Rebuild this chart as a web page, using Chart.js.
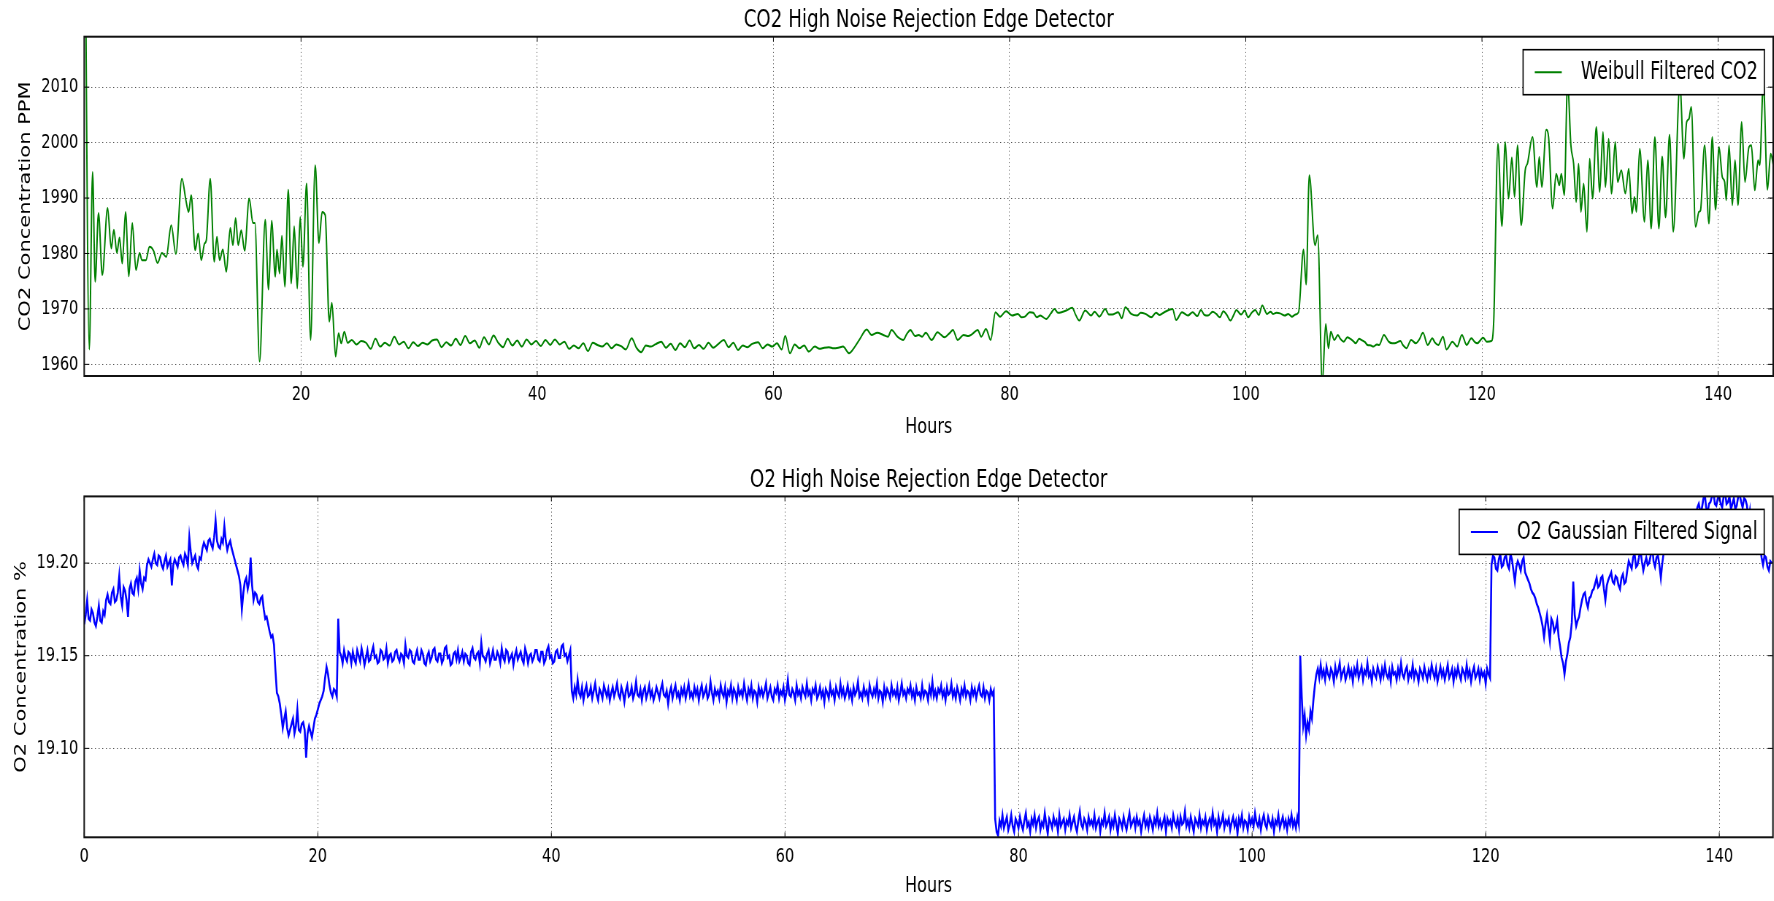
<!DOCTYPE html>
<html>
<head>
<meta charset="utf-8">
<title>CO2 / O2 High Noise Rejection Edge Detector</title>
<script src="https://cdn.jsdelivr.net/npm/chart.js@4.4.1/dist/chart.umd.min.js"></script>
<style>
  html, body { margin: 0; padding: 0; background: #fff; overflow: hidden; }
  .squeeze { position: absolute; left: 0; transform-origin: 0 0; }
</style>
</head>
<body>
<div id="topBox" class="squeeze"><canvas id="co2Chart"></canvas></div>
<div id="bottomBox" class="squeeze"><canvas id="o2Chart"></canvas></div>
<script>

// ---------------- data ----------------

// CO2 readings, [hour, ppm] (peaks and troughs)
const co2Samples = [
  [1.65,2060],[2.07,1962.7],[2.35,1994.7],[2.57,1974.9],[2.85,1987.3],[3.17,1976.1],[3.62,1988.2],[3.93,1980.9],
  [4.15,1984.3],[4.41,1980.1],[4.63,1982.9],[4.86,1978.2],[5.14,1987.5],[5.42,1975.9],[5.71,1985.5],[6.02,1977.0],
  [6.33,1980.1],[6.53,1978.8],[6.86,1978.8],[7.17,1981.2],[7.51,1980.5],[7.85,1978.3],[8.22,1980.1],[8.59,1979.4],
  [9.01,1985.1],[9.40,1979.9],[9.91,1993.5],[10.25,1989.6],[10.48,1987.5],[10.70,1990.5],[11.04,1980.6],[11.29,1983.6],
  [11.55,1978.8],[11.83,1981.8],[11.98,1982.4],[12.31,1993.5],[12.65,1978.5],[12.88,1983.0],[13.10,1978.8],[13.38,1980.7],
  [13.67,1976.7],[14.01,1984.6],[14.23,1981.5],[14.46,1986.4],[14.68,1981.5],[14.94,1984.2],[15.22,1980.5],[15.61,1989.9],
  [15.93,1985.5],[16.09,1985.5],[16.49,1960.5],[16.97,1986.1],[17.25,1973.5],[17.51,1985.9],[17.82,1975.8],[17.96,1980.7],
  [18.18,1976.4],[18.38,1983.2],[18.63,1974.0],[18.92,1991.5],[19.17,1974.6],[19.42,1984.9],[19.68,1973.7],[19.93,1986.6],
  [20.16,1977.6],[20.47,1992.6],[20.81,1964.4],[21.20,1995.9],[21.51,1981.9],[21.79,1987.5],[22.05,1986.9],[22.39,1967.7],
  [22.61,1971.1],[22.93,1961.4],[23.18,1965.6],[23.40,1963.8],[23.66,1965.9],[23.95,1963.9],
  // quiet stretch
  [24.3,1964.4],[24.7,1963.6],[25.1,1964.2],[25.5,1963.9],[25.9,1962.8],[26.3,1964.6],[26.7,1963.2],[27.1,1963.9],
  [27.5,1963.4],[27.9,1965.0],[28.3,1963.6],[28.7,1964.1],[29.1,1962.9],[29.5,1964.0],[29.9,1963.3],[30.3,1963.9],
  [30.7,1963.6],[31.1,1964.3],[31.5,1964.5],[31.9,1963.1],[32.3,1964.0],[32.7,1963.4],[33.1,1964.6],[33.5,1963.5],
  [33.9,1965.1],[34.3,1963.8],[34.7,1964.3],[35.1,1963.0],[35.5,1964.9],[35.9,1963.6],[36.3,1965.2],[36.7,1963.9],
  [37.1,1963.1],[37.5,1964.6],[37.9,1963.4],[38.3,1964.3],[38.7,1963.2],[39.1,1964.5],[39.5,1963.6],[39.9,1964.2],
  [40.3,1963.3],[40.7,1964.4],[41.1,1963.5],[41.5,1964.5],[41.9,1963.6],[42.3,1964.1],[42.7,1962.8],[43.1,1963.4],
  [43.5,1962.9],[43.9,1963.8],[44.3,1962.4],[44.7,1963.9],[45.1,1963.5],[45.5,1963.2],[45.9,1963.8],[46.3,1962.9],
  [46.7,1963.6],[47.1,1963.3],[47.5,1962.7],[48.0,1964.7],[48.4,1963.0],[48.8,1962.2],[49.2,1963.4],[49.6,1963.2],
  [50.0,1963.6],[50.5,1964.1],[50.9,1963.0],[51.3,1963.7],[51.7,1962.6],[52.1,1963.8],[52.5,1963.1],[52.9,1964.3],
  [53.3,1962.9],[53.7,1963.5],[54.1,1962.8],[54.5,1963.9],[54.9,1963.0],[55.3,1963.6],[55.8,1964.4],[56.2,1963.1],
  [56.6,1963.9],[57.0,1962.6],[57.4,1963.4],[57.8,1963.1],[58.2,1963.7],[58.7,1964.0],[59.1,1962.9],[59.5,1963.6],
  [59.9,1963.2],[60.3,1963.8],[60.7,1962.7],[61.0,1965.1],[61.4,1962.0],[61.8,1963.6],[62.2,1962.9],[62.6,1963.4],
  [63.0,1962.3],[63.5,1963.2],[63.9,1962.8],[64.3,1963.0],[64.7,1963.1],[65.1,1962.9],[65.5,1963.0],[65.9,1963.2],
  [66.4,1962.0],[66.9,1963.2],[67.3,1964.5],[67.9,1966.3],[68.3,1965.3],[68.8,1965.7],[69.3,1965.3],[69.7,1965.0],
  [70.0,1966.2],[70.5,1965.0],[71.0,1964.4],[71.3,1965.5],[71.6,1966.2],[72.0,1965.1],[72.3,1965.3],[72.6,1965.0],
  [72.9,1965.7],[73.4,1964.4],[73.9,1965.8],[74.2,1965.3],[74.5,1964.9],[74.9,1965.6],[75.2,1966.2],[75.6,1964.4],
  [76.1,1965.3],[76.5,1965.1],[76.8,1965.4],[77.3,1966.2],[77.6,1965.0],[78.0,1966.4],[78.4,1964.4],[78.8,1969.4],
  [79.2,1968.6],[79.7,1969.6],[80.2,1968.8],[80.7,1969.1],[81.0,1968.5],[81.3,1968.6],[81.7,1969.4],[82.0,1969.3],
  [82.3,1968.5],[82.6,1968.8],[83.1,1968.2],[83.5,1969.2],[83.8,1970.0],[84.1,1969.3],[84.4,1969.4],[84.8,1969.7],
  [85.3,1970.2],[85.6,1968.9],[85.9,1967.9],[86.4,1969.7],[86.9,1968.8],[87.2,1969.5],[87.6,1968.6],[88.1,1970.0],
  [88.4,1969.0],[88.7,1969.0],[89.2,1969.4],[89.5,1968.3],[89.8,1970.3],[90.3,1969.1],[90.8,1968.8],[91.1,1969.3],
  [91.5,1969.1],[92.0,1968.5],[92.4,1969.3],[92.7,1968.9],[93.1,1969.4],[93.8,1970.0],[94.1,1968.0],[94.6,1969.4],
  [95.1,1968.8],[95.5,1969.4],[95.9,1968.7],[96.2,1969.8],[96.5,1968.9],[96.8,1968.8],[97.2,1969.5],[97.5,1969.1],
  [97.8,1968.5],[98.1,1969.6],[98.4,1968.9],[98.7,1967.9],[99.0,1969.0],[99.2,1969.8],[99.6,1969.0],[99.9,1969.7],
  [100.2,1968.5],[100.5,1969.3],[100.8,1969.8],[101.1,1968.9],[101.4,1970.6],[101.8,1969.1],[102.1,1969.5],[102.3,1969.1],
  [102.6,1969.3],[102.9,1969.2],[103.3,1968.8],[103.6,1969.1],[103.9,1968.6],[104.2,1969.0],[104.47,1969.4],
  // spike around 105 h
  [104.89,1980.7],[105.11,1974.4],[105.38,1994.1],[105.86,1981.5],[106.09,1983.3],[106.48,1956.5],[106.77,1967.3],[107.0,1962.9],
  [107.2,1965.9],[107.5,1964.4],[107.8,1965.3],[108.0,1964.6],[108.3,1964.1],[108.6,1964.9],[108.8,1964.7],[109.1,1964.2],
  [109.3,1963.8],[109.6,1964.6],[109.8,1964.4],[110.1,1964.0],[110.3,1963.5],[110.6,1963.4],[110.8,1963.2],[111.1,1963.6],
  [111.3,1963.5],[111.7,1965.3],[112.1,1964.1],[112.4,1963.8],[112.6,1963.8],[113.1,1964.2],[113.3,1963.5],[113.6,1962.9],
  [114.0,1964.4],[114.4,1963.8],[114.7,1964.5],[115.0,1965.7],[115.4,1963.5],[115.8,1964.7],[116.0,1964.0],[116.3,1963.5],
  [116.7,1965.0],[117.0,1962.7],[117.5,1964.1],[117.9,1963.2],[118.3,1965.3],[118.7,1963.5],[119.1,1964.7],[119.4,1964.0],
  [119.6,1963.8],[120.1,1964.8],[120.4,1964.1],[120.8,1964.2],[121.0,1968.0],
  // noisy tail
  [121.35,1999.8],[121.69,1984.9],[121.97,2000.1],[122.25,1989.9],[122.53,1997.3],[122.76,1990.2],[123.01,1999.5],[123.32,1985.1],
  [123.66,1995.0],[123.86,1996.3],[124.28,2001.0],[124.65,1992.0],[124.85,1997.4],[125.07,1992.0],[125.44,2002.3],[125.64,2001.0],
  [125.98,1988.1],[126.29,1994.4],[126.55,1992.3],[126.72,1994.4],[126.97,1990.5],[127.25,2011.0],[127.53,1999.5],[127.76,1996.2],
  [127.98,1989.3],[128.18,1996.2],[128.38,1987.5],[128.61,1992.6],[128.89,1983.9],[129.12,1997.1],[129.37,1989.9],[129.68,2002.8],
  [129.97,1991.1],[130.25,2001.9],[130.45,1992.0],[130.73,2000.7],[130.96,1990.8],[131.29,2000.1],[131.49,1992.9],[131.80,1995.0],
  [132.14,1990.8],[132.43,1995.3],[132.71,1987.2],[132.91,1990.2],[133.08,1987.5],[133.36,1998.9],[133.76,1985.7],[134.04,1996.8],
  [134.33,1984.5],[134.64,2001.0],[134.98,1984.5],[135.26,1997.5],[135.55,1986.5],[135.88,2001.4],[136.20,1983.9],[136.76,2010.5],
  [137.10,1997.1],[137.33,2003.7],[137.53,2004.3],[137.72,2006.4],[138.09,1984.8],[138.37,1987.5],[138.51,1987.8],[138.85,1999.5],
  [139.22,1985.4],[139.50,2001.0],[139.78,1987.9],[140.07,1999.2],[140.35,1993.8],[140.55,1992.9],[140.69,1989.6],[140.92,1999.5],
  [141.20,1988.7],[141.43,1996.8],[141.68,1988.7],[141.99,2003.7],[142.27,1992.9],[142.61,1999.2],[142.81,1999.5],[143.10,1991.4],
  [143.38,1996.8],[143.52,1995.9],[143.83,2011.0],[144.17,1991.5],[144.45,1998.0],[144.74,1995.0]
];

// O2 readings, one every 7.5 min from hour 0
const o2Start = 0;
const o2Step = 0.125;
const o2Percent = [
  // 0 - 21.875 h
  19.167,19.172,19.180,19.170,19.169,19.175,19.173,19.168,19.166,19.171,
  19.177,19.169,19.168,19.174,19.172,19.180,19.183,19.179,19.178,19.184,
  19.186,19.179,19.180,19.184,19.193,19.182,19.177,19.187,19.185,19.180,
  19.171,19.186,19.189,19.184,19.183,19.190,19.192,19.186,19.196,19.189,
  19.186,19.192,19.191,19.199,19.202,19.200,19.198,19.202,19.205,19.200,
  19.199,19.204,19.203,19.199,19.197,19.201,19.204,19.198,19.200,19.202,
  19.188,19.199,19.202,19.200,19.198,19.203,19.204,19.201,19.199,19.205,
  19.203,19.199,19.214,19.206,19.200,19.202,19.204,19.199,19.197,19.203,
  19.202,19.208,19.211,19.209,19.207,19.212,19.213,19.210,19.208,19.214,
  19.223,19.212,19.209,19.208,19.213,19.211,19.220,19.212,19.207,19.210,
  19.212,19.208,19.205,19.202,19.199,19.196,19.193,19.188,19.175,19.184,
  19.190,19.192,19.186,19.190,19.203,19.188,19.180,19.184,19.183,19.179,
  19.178,19.181,19.182,19.175,19.170,19.171,19.167,19.163,19.160,19.161,
  19.156,19.142,19.130,19.128,19.124,19.118,19.111,19.116,19.120,19.111,
  19.107,19.110,19.113,19.116,19.108,19.112,19.121,19.110,19.109,19.113,
  19.114,19.110,19.095,19.108,19.112,19.109,19.106,19.111,19.116,19.118,
  19.121,19.124,19.126,19.128,19.131,19.138,19.144,19.140,19.134,19.130,
  19.128,19.132,19.131,19.128,19.170,19.152,
  // 22 - 41.625 h
  19.150,19.146,19.153,19.149,19.147,19.152,19.151,19.146,19.152,19.148,
  19.146,19.153,19.150,19.147,19.154,19.150,19.145,19.149,19.153,19.147,
  19.148,19.152,19.155,19.149,19.150,19.146,19.147,19.153,19.152,19.148,
  19.149,19.154,19.146,19.150,19.151,19.147,19.148,19.152,19.153,19.149,
  19.147,19.151,19.150,19.146,19.156,19.150,19.149,19.153,19.152,19.147,
  19.146,19.150,19.153,19.148,19.148,19.153,19.151,19.146,19.145,19.150,
  19.152,19.147,19.149,19.153,19.154,19.148,19.147,19.151,19.151,19.146,
  19.148,19.154,19.155,19.149,19.150,19.145,19.146,19.151,19.152,19.148,
  19.153,19.147,19.149,19.152,19.147,19.151,19.150,19.146,19.145,19.152,
  19.154,19.149,19.148,19.151,19.152,19.146,19.157,19.150,19.149,19.147,
  19.151,19.153,19.146,19.149,19.153,19.148,19.148,19.152,19.150,19.146,
  19.154,19.149,19.147,19.153,19.152,19.147,19.149,19.151,19.145,19.150,
  19.153,19.148,19.150,19.152,19.148,19.146,19.154,19.151,19.146,19.150,
  19.151,19.147,19.149,19.153,19.153,19.148,19.147,19.152,19.152,19.146,
  19.148,19.153,19.155,19.149,19.150,19.146,19.147,19.152,19.153,19.149,
  19.149,19.155,19.156,19.150,19.151,19.147,19.150,19.153,
  // 41.75 - 77.875 h
  19.131,19.127,19.133,19.129,19.137,19.130,19.128,19.133,19.126,19.131,
  19.134,19.128,19.129,19.133,19.127,19.131,19.135,19.129,19.126,19.132,
  19.130,19.127,19.134,19.131,19.128,19.132,19.126,19.130,19.133,19.128,
  19.131,19.135,19.129,19.127,19.133,19.130,19.125,19.131,19.134,19.128,
  19.129,19.133,19.127,19.130,19.136,19.129,19.128,19.132,19.126,19.131,
  19.133,19.127,19.130,19.134,19.128,19.131,19.126,19.129,19.133,19.130,
  19.127,19.132,19.135,19.129,19.128,19.131,19.124,19.130,19.133,19.127,
  19.131,19.134,19.128,19.130,19.126,19.132,19.129,19.133,19.127,19.131,
  19.135,19.128,19.130,19.127,19.133,19.129,19.132,19.126,19.131,19.134,
  19.128,19.130,19.133,19.127,19.129,19.136,19.130,19.126,19.132,19.129,
  19.131,19.127,19.134,19.130,19.128,19.133,19.125,19.131,19.129,19.134,
  19.127,19.132,19.130,19.126,19.133,19.129,19.131,19.128,19.135,19.130,
  19.126,19.132,19.129,19.134,19.127,19.131,19.130,19.125,19.133,19.129,
  19.132,19.128,19.131,19.135,19.127,19.130,19.133,19.128,19.126,19.132,
  19.130,19.134,19.127,19.131,19.129,19.133,19.126,19.130,19.137,19.129,
  19.128,19.132,19.130,19.126,19.134,19.129,19.131,19.127,19.133,19.130,
  19.128,19.135,19.129,19.131,19.126,19.132,19.130,19.134,19.127,19.129,
  19.133,19.128,19.131,19.125,19.132,19.130,19.127,19.134,19.129,19.131,
  19.126,19.133,19.130,19.128,19.135,19.129,19.132,19.127,19.130,19.134,
  19.128,19.131,19.126,19.133,19.129,19.131,19.136,19.128,19.130,19.127,
  19.133,19.129,19.131,19.126,19.134,19.130,19.128,19.132,19.129,19.135,
  19.127,19.131,19.130,19.125,19.133,19.128,19.132,19.130,19.127,19.134,
  19.129,19.131,19.128,19.133,19.126,19.130,19.135,19.129,19.131,19.127,
  19.132,19.130,19.134,19.128,19.131,19.126,19.133,19.129,19.130,19.127,
  19.134,19.128,19.131,19.130,19.126,19.133,19.129,19.136,19.128,19.131,
  19.127,19.132,19.130,19.134,19.128,19.131,19.126,19.133,19.129,19.130,
  19.135,19.128,19.131,19.127,19.133,19.130,19.126,19.132,19.129,19.134,
  19.128,19.131,19.130,19.126,19.133,19.129,19.132,19.127,19.131,19.134,
  19.129,19.128,19.133,19.127,19.131,19.130,19.126,19.132,19.129,19.131,
  // 78 - 104 h
  19.062,19.055,19.053,19.061,19.058,19.064,19.057,19.060,19.063,19.056,
  19.059,19.064,19.058,19.055,19.062,19.060,19.057,19.063,19.059,19.056,
  19.061,19.065,19.058,19.060,19.055,19.062,19.059,19.064,19.057,19.061,
  19.063,19.056,19.060,19.058,19.065,19.059,19.054,19.062,19.060,19.057,
  19.063,19.059,19.061,19.055,19.064,19.058,19.060,19.062,19.056,19.061,
  19.059,19.064,19.057,19.060,19.063,19.058,19.055,19.061,19.066,19.059,
  19.057,19.062,19.060,19.056,19.063,19.059,19.061,19.058,19.064,19.057,
  19.060,19.062,19.055,19.061,19.059,19.065,19.058,19.060,19.063,19.056,
  19.061,19.058,19.064,19.059,19.054,19.062,19.060,19.057,19.063,19.059,
  19.056,19.061,19.065,19.058,19.060,19.062,19.057,19.063,19.059,19.061,
  19.055,19.060,19.064,19.058,19.061,19.057,19.063,19.060,19.056,19.062,
  19.059,19.065,19.058,19.061,19.057,19.060,19.063,19.055,19.062,19.059,
  19.061,19.057,19.064,19.060,19.058,19.062,19.056,19.063,19.059,19.060,
  19.066,19.058,19.061,19.057,19.063,19.059,19.055,19.062,19.060,19.058,
  19.064,19.057,19.061,19.059,19.063,19.056,19.060,19.062,19.058,19.065,
  19.059,19.061,19.055,19.063,19.058,19.060,19.064,19.057,19.061,19.059,
  19.062,19.056,19.060,19.063,19.058,19.061,19.054,19.062,19.059,19.064,
  19.057,19.061,19.060,19.056,19.063,19.059,19.062,19.058,19.065,19.060,
  19.058,19.062,19.056,19.061,19.064,19.059,19.057,19.063,19.060,19.058,
  19.062,19.055,19.061,19.059,19.064,19.057,19.060,19.063,19.058,19.061,
  19.056,19.062,19.059,19.064,19.058,19.061,19.057,19.063,19.059,
  // 104.125 - 105.25 h
  19.150,19.128,19.112,19.118,19.107,19.114,19.110,19.120,19.116,19.126,
  // 105.375 - 120.375 h
  19.134,19.140,19.143,19.138,19.145,19.139,19.142,19.137,19.144,19.140,
  19.138,19.143,19.141,19.136,19.144,19.139,19.142,19.146,19.138,19.141,
  19.143,19.137,19.140,19.144,19.139,19.142,19.136,19.143,19.140,19.145,
  19.138,19.141,19.144,19.137,19.142,19.140,19.146,19.139,19.141,19.136,
  19.143,19.140,19.138,19.144,19.141,19.137,19.143,19.139,19.145,19.140,
  19.138,19.142,19.136,19.144,19.140,19.141,19.137,19.143,19.139,19.146,
  19.140,19.138,19.142,19.144,19.137,19.141,19.139,19.145,19.138,19.142,
  19.140,19.136,19.143,19.141,19.138,19.144,19.140,19.137,19.142,19.139,
  19.145,19.141,19.138,19.143,19.136,19.140,19.144,19.139,19.142,19.137,
  19.141,19.145,19.138,19.140,19.143,19.136,19.142,19.139,19.144,19.140,
  19.137,19.143,19.141,19.138,19.145,19.139,19.142,19.136,19.141,19.144,
  19.138,19.140,19.143,19.137,19.142,19.139,19.141,19.135,19.143,19.140,
  19.138,
  // 120.5 - 144.5 h
  19.199,19.204,19.203,19.197,19.196,19.202,19.205,19.198,19.199,19.203,
  19.204,19.199,19.197,19.205,19.202,19.196,19.190,19.198,19.201,19.199,
  19.196,19.201,19.203,19.195,19.193,19.191,19.189,19.186,19.184,19.183,
  19.181,19.178,19.176,19.173,19.170,19.166,19.160,19.167,19.172,19.165,
  19.158,19.170,19.168,19.163,19.165,19.169,19.160,19.155,19.149,19.146,
  19.140,19.147,19.151,19.157,19.160,19.168,19.190,19.172,19.166,19.169,
  19.171,19.176,19.180,19.183,19.184,19.179,19.176,19.181,19.182,19.185,
  19.186,19.189,19.192,19.187,19.188,19.192,19.193,19.186,19.180,19.188,
  19.191,19.193,19.195,19.190,19.189,19.193,19.192,19.188,19.186,19.192,
  19.194,19.189,19.190,19.196,19.201,19.199,19.197,19.203,19.205,19.198,
  19.199,19.203,19.208,19.201,19.196,19.200,19.203,19.199,19.200,19.204,
  19.210,19.201,19.198,19.203,19.204,19.199,19.192,19.200,19.206,19.210,
  19.212,19.209,19.208,19.213,19.215,19.211,19.210,19.215,19.218,19.216,
  19.213,19.219,19.221,19.216,19.217,19.222,19.224,19.227,19.228,19.224,
  19.226,19.230,19.232,19.228,19.229,19.234,19.238,19.230,19.227,19.232,
  19.233,19.236,19.239,19.232,19.231,19.235,19.236,19.232,19.230,19.236,
  19.238,19.232,19.233,19.236,19.229,19.232,19.235,19.229,19.231,19.236,
  19.237,19.233,19.230,19.235,19.234,19.231,19.222,19.228,19.216,19.219,
  19.212,19.214,19.207,19.210,19.209,19.203,19.199,19.204,19.203,19.198,
  19.196,19.201,19.200
];

// axis ranges and tick marks
const co2HourRange = [1.64, 144.66];
const o2HourRange = [0, 144.6];
const co2PpmRange = [1957.9, 2019.1];
const o2PercentRange = [19.052, 19.236];
const co2HourTicks = [20, 40, 60, 80, 100, 120, 140];
const o2HourTicks = [0, 20, 40, 60, 80, 100, 120, 140];
const co2PpmTicks = [1960, 1970, 1980, 1990, 2000, 2010];
const o2PercentTicks = [19.10, 19.15, 19.20];

// ---------------- layout ----------------
// the source picture is squashed sideways, so each chart is drawn wider and squeezed back
const SQUEEZE = 0.73;
const PAGE_W = 1774;
const CANVAS_W = Math.round(PAGE_W / SQUEEZE);
const FONT = '"DejaVu Sans", "Liberation Sans", sans-serif';

function placeBox(id, top, height) {
  const box = document.getElementById(id);
  box.style.top = top + 'px';
  box.style.width = CANVAS_W + 'px';
  box.style.height = height + 'px';
  box.style.transform = 'scaleX(' + SQUEEZE + ')';
}
placeBox('topBox', 0, 450);
placeBox('bottomBox', 450, 451);

Chart.defaults.font.family = FONT;
Chart.defaults.color = '#000';

// matplotlib style frame with inward tick marks
const framePlugin = {
  id: 'frame',
  afterDatasetsDraw(chart) {
    const {ctx, chartArea: a, scales} = chart;
    ctx.save();
    ctx.strokeStyle = '#000';
    ctx.lineWidth = 1;
    ctx.beginPath();
    scales.x.ticks.forEach(t => {
      const px = scales.x.getPixelForValue(t.value);
      ctx.moveTo(px, a.bottom); ctx.lineTo(px, a.bottom - 5);
      ctx.moveTo(px, a.top); ctx.lineTo(px, a.top + 5);
    });
    scales.y.ticks.forEach(t => {
      const py = scales.y.getPixelForValue(t.value);
      ctx.moveTo(a.left, py); ctx.lineTo(a.left + 7, py);
      ctx.moveTo(a.right, py); ctx.lineTo(a.right - 7, py);
    });
    ctx.stroke();
    ctx.lineWidth = 2;
    ctx.strokeStyle = '#111';
    ctx.strokeRect(a.left, a.top, a.right - a.left, a.bottom - a.top);
    ctx.restore();
  }
};

// boxed legend in the upper right corner of the plot
const boxLegend = {
  id: 'boxLegend',
  afterDraw(chart) {
    const {ctx, chartArea: a} = chart;
    const ds = chart.data.datasets[0];
    ctx.save();
    ctx.font = '24px ' + FONT;
    const textW = ctx.measureText(ds.label).width;
    const padL = 16, sample = 37, gap = 26, padR = 9, h = 45;
    const w = padL + sample + gap + textW + padR;
    const x = a.right - 12 - w;
    const y = a.top + 13;
    ctx.fillStyle = '#fff';
    ctx.fillRect(x, y, w, h);
    ctx.lineWidth = 1.6;
    ctx.strokeStyle = '#000';
    ctx.strokeRect(x, y, w, h);
    ctx.strokeStyle = ds.borderColor;
    ctx.lineWidth = 2;
    ctx.beginPath();
    ctx.moveTo(x + padL, y + h / 2);
    ctx.lineTo(x + padL + sample, y + h / 2);
    ctx.stroke();
    ctx.fillStyle = '#000';
    ctx.textBaseline = 'middle';
    ctx.fillText(ds.label, x + padL + sample + gap, y + h / 2 + 1);
    ctx.restore();
  }
};

function makeChart(canvasId, c) {
  const ctx = document.getElementById(canvasId).getContext('2d');
  return new Chart(ctx, {
    type: 'line',
    data: {
      datasets: [{
        label: c.label,
        data: c.points,
        borderColor: c.color,
        borderWidth: c.lineWidth,
        pointRadius: 0,
        cubicInterpolationMode: c.smooth ? 'monotone' : 'default',
        tension: 0,
        clip: 0
      }]
    },
    options: {
      animation: false,
      responsive: true,
      maintainAspectRatio: false,
      events: [],
      layout: { padding: { left: 0, right: 1, top: 0, bottom: 0 } },
      plugins: {
        legend: { display: false },
        tooltip: { enabled: false },
        title: {
          display: true,
          fullSize: false,
          text: c.title,
          color: '#000',
          font: { size: 25, weight: 'normal', lineHeight: 1.2 },
          padding: c.titlePad
        }
      },
      scales: {
        x: {
          type: 'linear',
          min: c.xRange[0],
          max: c.xRange[1],
          afterBuildTicks: s => { s.ticks = c.xTicks.map(v => ({ value: v })); },
          afterFit: s => { s.height = c.xAxisHeight; },
          grid: { color: 'rgba(0,0,0,0.7)', lineWidth: 1, drawTicks: false },
          border: { display: false, dash: [1, 2.8] },
          ticks: { padding: 7, font: { size: 20 }, color: '#000', maxRotation: 0, callback: v => String(v) },
          title: { display: true, text: 'Hours', color: '#000', font: { size: 22 }, padding: { top: 0, bottom: c.xTitlePad } }
        },
        y: {
          type: 'linear',
          min: c.yRange[0],
          max: c.yRange[1],
          afterBuildTicks: s => { s.ticks = c.yTicks.map(v => ({ value: v })); },
          afterFit: s => { s.width = 84.2 / SQUEEZE; },
          grid: { color: 'rgba(0,0,0,0.7)', lineWidth: 1, drawTicks: false },
          border: { display: false, dash: [1.4, 3.6] },
          ticks: { padding: 8, font: { size: 20 }, color: '#000', callback: c.yFormat },
          title: { display: true, text: c.yTitle, color: '#000', font: { size: 21 }, padding: { top: c.yTitlePad, bottom: 0 } }
        }
      }
    },
    plugins: [framePlugin, boxLegend]
  });
}

const co2Points = co2Samples.map(([h, ppm]) => ({ x: h, y: ppm }));
const o2Points = o2Percent.map((v, i) => ({ x: o2Start + i * o2Step, y: v }));

makeChart('co2Chart', {
  label: 'Weibull Filtered CO2',
  title: 'CO2 High Noise Rejection Edge Detector',
  points: co2Points,
  color: '#008000',
  lineWidth: 2,
  smooth: true,
  titlePad: { top: 5.4, bottom: 1.3 },
  xRange: co2HourRange,
  xTicks: co2HourTicks,
  xAxisHeight: 74,
  xTitlePad: 9.8,
  yRange: co2PpmRange,
  yTicks: co2PpmTicks,
  yTitle: 'CO2 Concentration PPM',
  yTitlePad: 23,
  yFormat: v => v.toFixed(0)
});

makeChart('o2Chart', {
  label: 'O2 Gaussian Filtered Signal',
  title: 'O2 High Noise Rejection Edge Detector',
  points: o2Points,
  color: '#0000ff',
  lineWidth: 2.6,
  smooth: false,
  titlePad: { top: 15.1, bottom: 1.3 },
  xRange: o2HourRange,
  xTicks: o2HourTicks,
  xAxisHeight: 63.7,
  xTitlePad: 1.3,
  yRange: o2PercentRange,
  yTicks: o2PercentTicks,
  yTitle: 'O2 Concentration %',
  yTitlePad: 17.4,
  yFormat: v => v.toFixed(2)
});
</script>
</body>
</html>
